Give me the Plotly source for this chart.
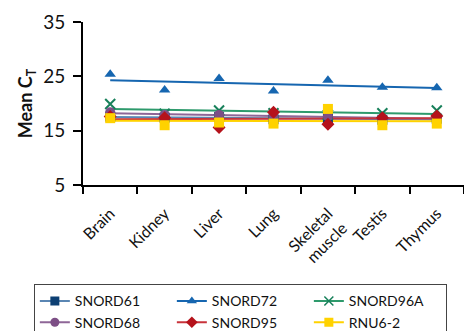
import numpy as np
import plotly.graph_objects as go

tissues = ["Brain", "Kidney", "Liver", "Lung", "Skeletal<br>muscle", "Testis", "Thymus"]

snord61 = [17.6, 17.4, 17.5, 17.1, 17.3, 17.0, 17.2]
snord72 = [25.4, 22.5, 24.6, 22.3, 24.3, 23.0, 22.9]
snord96a = [19.9, 18.1, 18.7, 18.2, 17.9, 18.2, 18.7]
snord68 = [18.4, 17.9, 17.9, 17.4, 17.6, 17.3, 17.3]
snord95 = [17.6, 17.4, 15.6, 18.4, 16.2, 17.4, 17.7]
rnu6_2 = [17.3, 16.0, 16.5, 16.3, 19.0, 16.0, 16.3]

series = [
    ("SNORD61", snord61, "#0d3f73", "#5a86b3", "square"),
    ("SNORD72", snord72, "#1666b0", "#1666b0", "triangle-up"),
    ("SNORD96A", snord96a, "#17805a", "#2e9a6c", "x-thin"),
    ("SNORD68", snord68, "#7d4f86", "#8e6697", "circle"),
    ("SNORD95", snord95, "#b5121b", "#c8333b", "diamond"),
    ("RNU6-2", rnu6_2, "#ffd200", "#ffd200", "square"),
]

fig = go.Figure()
idx = np.arange(len(tissues))
# trend lines (linear fit of each series)
for name, vals, mc, lc, sym in series:
    k, b = np.polyfit(idx, vals, 1)
    fig.add_trace(go.Scatter(x=[tissues[0], tissues[-1]], y=[b, b + k * idx[-1]],
                             mode="lines", line=dict(color=lc, width=2),
                             showlegend=False, hoverinfo="skip"))
# markers
for name, vals, mc, lc, sym in series:
    mk = dict(color=mc, size=10, symbol=sym)
    if sym == "x-thin":
        mk = dict(color=mc, size=10, symbol=sym, line=dict(color=mc, width=2))
    fig.add_trace(go.Scatter(x=tissues, y=vals, mode="markers", marker=mk,
                             showlegend=False, name=name))
# legend entries
for name, vals, mc, lc, sym in series:
    mk = dict(color=mc, size=9, symbol=sym)
    if sym == "x-thin":
        mk = dict(color=mc, size=9, symbol=sym, line=dict(color=mc, width=1.5))
    fig.add_trace(go.Scatter(x=[None], y=[None], mode="lines+markers", name=name,
                             marker=mk, line=dict(color=lc, width=2)))

font_family = "Lato, 'DejaVu Sans', sans-serif"
fig.update_layout(
    width=464, height=331,
    margin=dict(l=83, r=0, t=22, b=146, autoexpand=False),
    paper_bgcolor="white", plot_bgcolor="white",
    font=dict(family=font_family, color="#111111"),
    xaxis=dict(type="category", categoryorder="array", categoryarray=tissues,
               range=[-0.5, 6.5], tickson="boundaries", automargin=False,
               ticks="outside", ticklen=7, tickwidth=1.5, tickcolor="black",
               showline=True, linecolor="black", linewidth=2, showgrid=False,
               tickangle=-45, ticklabelstandoff=11,
               tickfont=dict(size=16, family=font_family)),
    yaxis=dict(range=[5, 35], tickvals=[5, 15, 25, 35], ticks="outside",
               ticklen=8, tickwidth=1.5, tickcolor="black", showline=True,
               linecolor="black", linewidth=2, showgrid=False, zeroline=False,
               automargin=False, ticklabelstandoff=4,
               tickfont=dict(size=19, family=font_family),
               title=dict(text="<b>Mean C<sub>T</sub></b>",
                          font=dict(size=18, family=font_family), standoff=6)),
    legend=dict(orientation="h", x=-0.129, xanchor="left",
                y=-0.61, yanchor="top",
                bordercolor="#444444", borderwidth=1, entrywidth=92,
                font=dict(size=14, family=font_family), tracegroupgap=0,
                itemwidth=30),
)

fig.write_html("out.html")
